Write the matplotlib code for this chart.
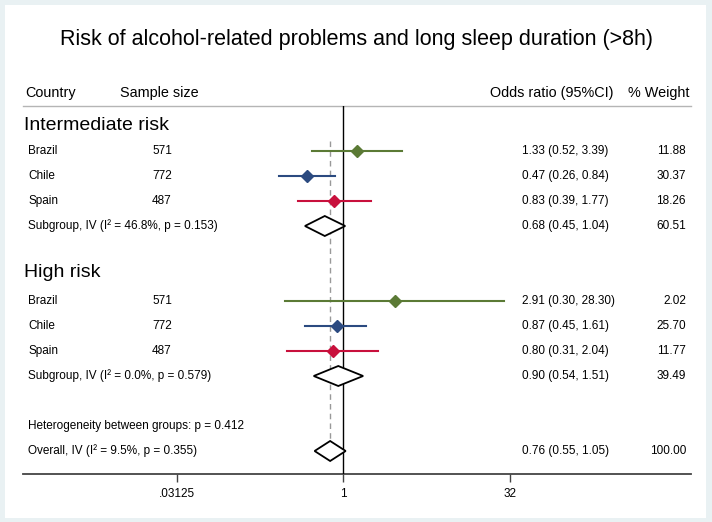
import numpy as np
import matplotlib
matplotlib.use("Agg")
import matplotlib.pyplot as plt
from matplotlib.patches import Rectangle

plt.rcParams['font.family'] = ['Liberation Sans', 'DejaVu Sans']

# data
countries = ['Brazil', 'Chile', 'Spain']
sample_size = [571, 772, 487]
colors = ['#5b7a35', '#2b4a80', '#c8103c']

int_or = [1.33, 0.47, 0.83]
int_lo = [0.52, 0.26, 0.39]
int_hi = [3.39, 0.84, 1.77]
int_w = [11.88, 30.37, 18.26]

high_or = [2.91, 0.87, 0.80]
high_lo = [0.30, 0.45, 0.31]
high_hi = [28.30, 1.61, 2.04]
high_w = [2.02, 25.70, 11.77]

sub_label = ['Subgroup, IV (I\u00b2 = 46.8%, p = 0.153)',
             'Subgroup, IV (I\u00b2 = 0.0%, p = 0.579)']
sub_or = [0.68, 0.90]
sub_lo = [0.45, 0.54]
sub_hi = [1.04, 1.51]
sub_w = [60.51, 39.49]

overall_label = 'Overall, IV (I\u00b2 = 9.5%, p = 0.355)'
overall_or, overall_lo, overall_hi, overall_w = 0.76, 0.55, 1.05, 100.00
het_label = 'Heterogeneity between groups: p = 0.412'

groups = ['Intermediate risk', 'High risk']
group_data = [(int_or, int_lo, int_hi, int_w), (high_or, high_lo, high_hi, high_w)]

xticks = [2 ** -5, 1, 2 ** 5]
xticklabels = ['.03125', '1', '32']

W, H = 712, 522
fig = plt.figure(figsize=(W / 100, H / 100), dpi=100, facecolor='#e9f1f3')
fig.add_artist(Rectangle((5 / W, 4 / H), 701 / W, 513 / H, transform=fig.transFigure,
                         facecolor='white', edgecolor='none', zorder=-10))

L, R, T, B = 23, 691, 106, 474
ax = fig.add_axes([L / W, 1 - B / H, (R - L) / W, (B - T) / H])
ax.patch.set_alpha(0)
ax.set_xscale('log', base=2)
ax.set_xlim(2 ** -9.61, 2 ** 10.43)
ax.set_ylim(13.92, -0.8)
for s in ['top', 'left', 'right']:
    ax.spines[s].set_visible(False)
ax.spines['bottom'].set_color('#444444')
ax.spines['bottom'].set_linewidth(1.3)
ax.set_yticks([])
ax.set_xticks(xticks)
ax.set_xticklabels(xticklabels, fontsize=8.5)
ax.minorticks_off()
ax.tick_params(axis='x', length=6, width=1, color='#444444', pad=4)

def fx(px):
    return (px - L) / (R - L)

tr = ax.get_yaxis_transform()
fs = 8.5

# header
ax.axhline(-0.8, color='#b5b5b5', lw=1, clip_on=False)
hy = -1.32
ax.text(fx(25), hy, 'Country', transform=tr, fontsize=10.4, va='center')
ax.text(fx(120), hy, 'Sample size', transform=tr, fontsize=10.4, va='center')
ax.text(fx(613), hy, 'Odds ratio (95%CI)', transform=tr, fontsize=10.4, va='center', ha='right')
ax.text(fx(690), hy, '% Weight', transform=tr, fontsize=10.4, va='center', ha='right')

ax.axvline(1, color='black', lw=1, zorder=3)
ax.plot([overall_or, overall_or], [0.6, 13.4], color='#999999', lw=1, ls=(0, (4, 3)), zorder=2)

def diamond(y, est, lo, hi):
    ax.fill([lo, est, hi, est], [y, y - 0.4, y, y + 0.4], facecolor='white',
            edgecolor='black', lw=1.3, zorder=4)

start = 0
for g, (est, lo, hi, w) in enumerate(group_data):
    gy = start if g == 0 else start - 0.15
    ax.text(fx(24), gy, groups[g], transform=tr, fontsize=14, va='center')
    for i in range(3):
        y = start + 1 + i
        ax.plot([lo[i], hi[i]], [y, y], color=colors[i], lw=1.5, zorder=5)
        ax.plot(est[i], y, marker='D', ms=6.5, color=colors[i], zorder=6)
        ax.text(fx(28), y, countries[i], transform=tr, fontsize=fs, va='center')
        ax.text(fx(152), y, str(sample_size[i]), transform=tr, fontsize=fs, va='center')
        ax.text(fx(522), y, f'{est[i]:.2f} ({lo[i]:.2f}, {hi[i]:.2f})', transform=tr, fontsize=fs, va='center')
        ax.text(fx(686), y, f'{w[i]:.2f}', transform=tr, fontsize=fs, va='center', ha='right')
    y = start + 4
    diamond(y, sub_or[g], sub_lo[g], sub_hi[g])
    ax.text(fx(28), y, sub_label[g], transform=tr, fontsize=fs, va='center')
    ax.text(fx(522), y, f'{sub_or[g]:.2f} ({sub_lo[g]:.2f}, {sub_hi[g]:.2f})', transform=tr, fontsize=fs, va='center')
    ax.text(fx(686), y, f'{sub_w[g]:.2f}', transform=tr, fontsize=fs, va='center', ha='right')
    start += 6

ax.text(fx(28), 12, het_label, transform=tr, fontsize=fs, va='center')
diamond(13, overall_or, overall_lo, overall_hi)
ax.text(fx(28), 13, overall_label, transform=tr, fontsize=fs, va='center')
ax.text(fx(522), 13, f'{overall_or:.2f} ({overall_lo:.2f}, {overall_hi:.2f})', transform=tr, fontsize=fs, va='center')
ax.text(fx(686), 13, f'{overall_w:.2f}', transform=tr, fontsize=fs, va='center', ha='right')

fig.text(0.5, 1 - 40 / H, 'Risk of alcohol-related problems and long sleep duration (>8h)',
         ha='center', va='center', fontsize=15.5)

fig.savefig('out.png', dpi=100, facecolor=fig.get_facecolor())
